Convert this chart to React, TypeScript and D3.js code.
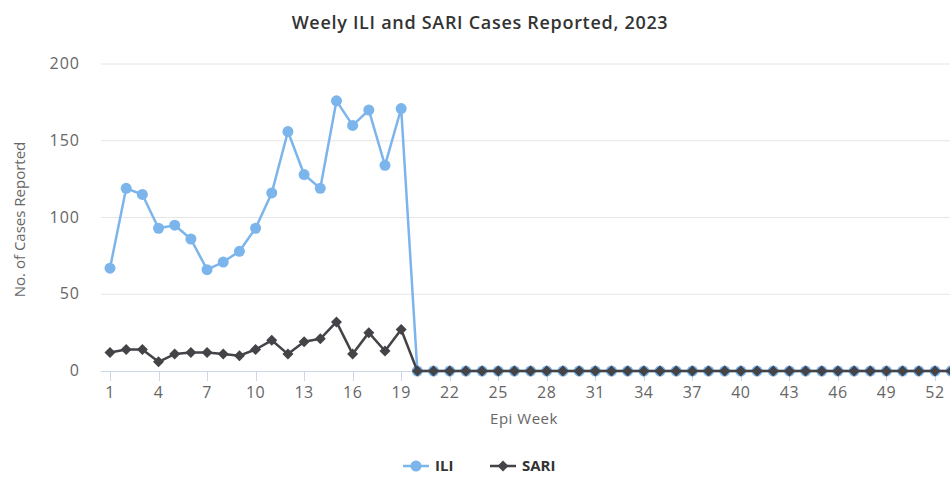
import * as d3 from "d3";
import React, { useEffect, useRef } from "react";

// Epi weeks 1..53 (last one is cut off by the right edge in the original)
const weeks: number[] = d3.range(1, 54);

const iliWeeks1to19 = [67, 119, 115, 93, 95, 86, 66, 71, 78, 93, 116, 156, 128, 119, 176, 160, 170, 134, 171];
const sariWeeks1to19 = [12, 14, 14, 6, 11, 12, 12, 11, 10, 14, 20, 11, 19, 21, 32, 11, 25, 13, 27];

const iliValues: number[] = weeks.map((w) => (w <= 19 ? iliWeeks1to19[w - 1] : 0));
const sariValues: number[] = weeks.map((w) => (w <= 19 ? sariWeeks1to19[w - 1] : 0));

const yTicks = [0, 50, 100, 150, 200];
const xTickWeeks = weeks.filter((w) => (w - 1) % 3 === 0);

const ILI_COLOR = "#7cb5ec";
const SARI_COLOR = "#434348";

// highcharts style markers
const circlePath = (r: number) => d3.symbol().type(d3.symbolCircle).size(Math.PI * r * r)() as string;
const diamondPath = (r: number) => `M0,${-r}L${r},0L0,${r}L${-r},0Z`;

const App: React.FC = () => {
  const ref = useRef<SVGSVGElement>(null);

  useEffect(() => {
    document.body.style.margin = "0";
    const svg = d3.select(ref.current);
    svg.selectAll("*").remove();

    const font = "'Open Sans', 'DejaVu Sans', sans-serif";
    const plotLeft = 101;
    const plotRight = 950;
    const plotTop = 64;
    const plotBottom = 371;

    const x = d3.scaleLinear().domain([1, 52]).range([110, 935]);
    const y = d3.scaleLinear().domain([0, 200]).range([plotBottom, plotTop]);

    // title
    svg
      .append("text")
      .text("Weely ILI and SARI Cases Reported, 2023")
      .attr("x", 480)
      .attr("y", 29)
      .attr("text-anchor", "middle")
      .attr("font-family", font)
      .attr("font-size", "18px")
      .attr("font-weight", "600")
      .attr("letter-spacing", "0.7px")
      .attr("fill", "#333333");

    // gridlines
    svg
      .append("g")
      .selectAll("line")
      .data(yTicks.filter((t) => t > 0))
      .enter()
      .append("line")
      .attr("x1", plotLeft)
      .attr("x2", plotRight)
      .attr("y1", (d) => y(d))
      .attr("y2", (d) => y(d))
      .attr("stroke", "#e6e6e6")
      .attr("stroke-width", 1);

    // y labels
    svg
      .append("g")
      .selectAll("text")
      .data(yTicks)
      .enter()
      .append("text")
      .text((d) => String(d))
      .attr("x", 80)
      .attr("y", (d) => y(d) + 5)
      .attr("text-anchor", "end")
      .attr("font-family", font)
      .attr("font-size", "16px")
      .attr("letter-spacing", "1px")
      .attr("fill", "#666666");

    svg
      .append("text")
      .text("No. of Cases Reported")
      .attr("transform", `translate(25,${(plotTop + plotBottom) / 2 + 2}) rotate(-90)`)
      .attr("text-anchor", "middle")
      .attr("font-family", font)
      .attr("font-size", "15px")
      .attr("fill", "#666666");

    // x axis line + ticks
    svg
      .append("line")
      .attr("x1", plotLeft)
      .attr("x2", plotRight)
      .attr("y1", plotBottom + 0.5)
      .attr("y2", plotBottom + 0.5)
      .attr("stroke", "#ccd6eb");

    svg
      .append("g")
      .selectAll("line")
      .data(xTickWeeks)
      .enter()
      .append("line")
      .attr("x1", (d) => Math.round(x(d)) + 0.5)
      .attr("x2", (d) => Math.round(x(d)) + 0.5)
      .attr("y1", plotBottom)
      .attr("y2", plotBottom + 10)
      .attr("stroke", "#ccd6eb");

    svg
      .append("g")
      .selectAll("text")
      .data(xTickWeeks)
      .enter()
      .append("text")
      .text((d) => String(d))
      .attr("x", (d) => x(d))
      .attr("y", plotBottom + 27)
      .attr("text-anchor", "middle")
      .attr("font-family", font)
      .attr("font-size", "16px")
      .attr("letter-spacing", "0.5px")
      .attr("fill", "#666666");

    svg
      .append("text")
      .text("Epi Week")
      .attr("x", 524)
      .attr("y", 424)
      .attr("text-anchor", "middle")
      .attr("font-family", font)
      .attr("font-size", "15px")
      .attr("letter-spacing", "0.5px")
      .attr("fill", "#666666");

    // series
    const line = d3
      .line<number>()
      .x((_, i) => x(weeks[i]))
      .y((d) => y(d));

    const plot = svg.append("g");

    const drawSeries = (values: number[], color: string, marker: string) => {
      plot
        .append("path")
        .datum(values)
        .attr("d", line)
        .attr("fill", "none")
        .attr("stroke", color)
        .attr("stroke-width", 2.5)
        .attr("stroke-linejoin", "round");
      plot
        .append("g")
        .selectAll("path")
        .data(values)
        .enter()
        .append("path")
        .attr("d", marker)
        .attr("transform", (d, i) => `translate(${x(weeks[i])},${y(d)})`)
        .attr("fill", color);
    };

    drawSeries(iliValues, ILI_COLOR, circlePath(5.5));
    drawSeries(sariValues, SARI_COLOR, diamondPath(5.5));

    // legend
    const legend = [
      { name: "ILI", color: ILI_COLOR, marker: circlePath(5.5), x: 403 },
      { name: "SARI", color: SARI_COLOR, marker: diamondPath(5.5), x: 490 },
    ];
    const lg = svg.append("g");
    legend.forEach((item) => {
      const ly = 466;
      lg.append("line")
        .attr("x1", item.x)
        .attr("x2", item.x + 26)
        .attr("y1", ly)
        .attr("y2", ly)
        .attr("stroke", item.color)
        .attr("stroke-width", 2.5);
      lg.append("path")
        .attr("d", item.marker)
        .attr("transform", `translate(${item.x + 13},${ly})`)
        .attr("fill", item.color);
      lg.append("text")
        .text(item.name)
        .attr("x", item.x + 32)
        .attr("y", ly + 5)
        .attr("font-family", font)
        .attr("font-size", "15px")
        .attr("font-weight", "bold")
        .attr("fill", "#333333");
    });
  }, []);

  return <svg ref={ref} width={950} height={478} style={{ display: "block", background: "#ffffff" }} />;
};

export default App;
